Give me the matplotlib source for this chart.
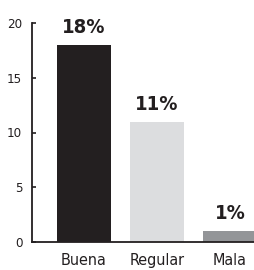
import matplotlib
matplotlib.use("Agg")
import matplotlib.pyplot as plt

# datos
categorias = ["Buena", "Regular", "Mala"]
valores = [18, 11, 1]
etiquetas = ["18%", "11%", "1%"]
colores = ["#231f20", "#dcdddf", "#939598"]

plt.rcParams['font.family'] = ['DejaVu Sans']
plt.rcParams['font.stretch'] = 'condensed'

W, H = 254, 270
fig = plt.figure(figsize=(W / 100, H / 100), dpi=100)
# eje: izquierda x=32, derecha 254, arriba y=23, abajo y=242
ax = fig.add_axes([32 / W, 1 - 242 / H, (W - 32) / W, (242 - 23) / H])

x = list(range(len(categorias)))
ax.bar(x, valores, width=0.74, color=colores)
for xi, v, t in zip(x, valores, etiquetas):
    ax.text(xi, v + 0.7, t, ha="center", va="bottom", fontsize=14.5,
            fontweight="bold", color="#231f20", stretch="condensed")

ax.set_xlim(-0.712, 2.329)
ax.set_ylim(0, 20)
ax.set_yticks([0, 5, 10, 15, 20])
ax.set_xticks(x)
ax.set_xticklabels(categorias, fontsize=11.5, color="#231f20", stretch="condensed")
ax.tick_params(axis="y", direction="in", length=3, width=1.2,
               labelsize=9.5, pad=7, colors="#231f20")
ax.tick_params(axis="x", length=0, pad=8)

for s in ["top", "right"]:
    ax.spines[s].set_visible(False)
ax.spines["left"].set_linewidth(1.3)
ax.spines["bottom"].set_linewidth(1.3)
ax.spines["left"].set_color("#231f20")
ax.spines["bottom"].set_color("#231f20")

fig.savefig("out.png", dpi=100)
